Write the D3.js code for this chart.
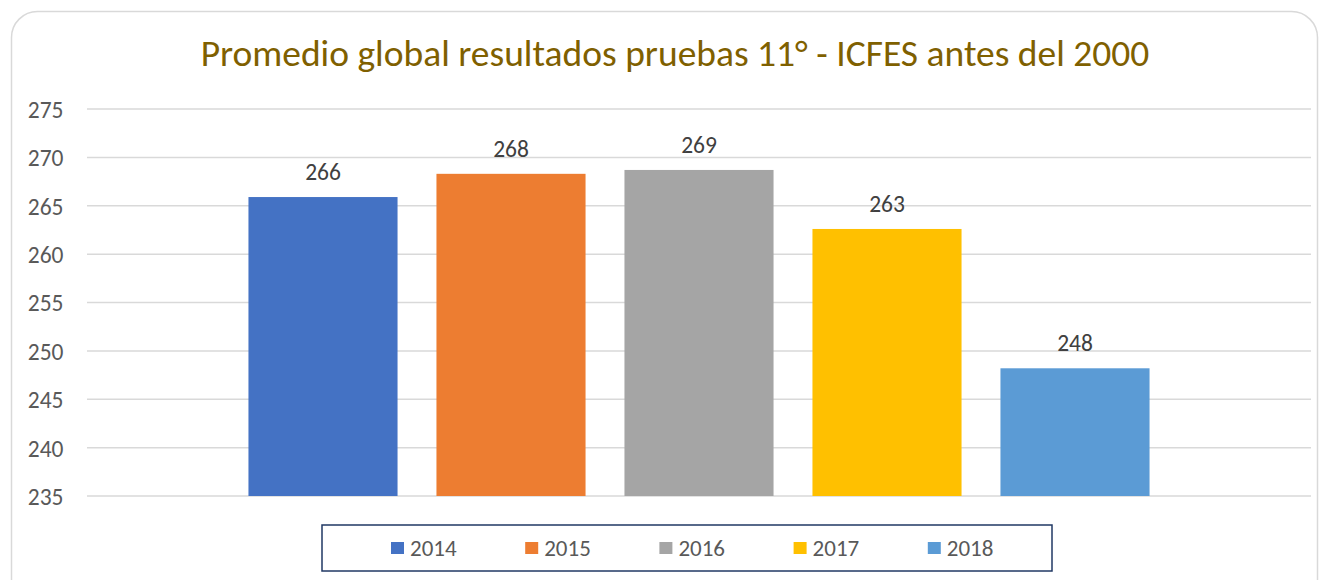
<!DOCTYPE html>
<html>
<head>
<meta charset="utf-8">
<script src="https://cdn.jsdelivr.net/npm/d3@7"></script>
<style>
  html, body { margin: 0; padding: 0; background: #fff; }
  svg { display: block; font-family: Carlito, Calibri, "Open Sans", "Noto Sans", sans-serif; }
</style>
</head>
<body>
<div id="chart"></div>
<script>
// data
const years = ['2014', '2015', '2016', '2017', '2018'];
const values = [265.9, 268.3, 268.7, 262.6, 248.2];
const labels = ['266', '268', '269', '263', '248'];
const colors = ['#4472c4', '#ed7d31', '#a5a5a5', '#ffc000', '#5b9bd5'];
const yTicks = [235, 240, 245, 250, 255, 260, 265, 270, 275];
const title = 'Promedio global resultados pruebas 11° - ICFES antes del 2000';

const width = 1328, height = 580;
const plot = {left: 87, right: 1311, top: 109, bottom: 496};

const svg = d3.select('#chart').append('svg')
    .attr('width', width)
    .attr('height', height);

// outer frame
svg.append('rect')
    .attr('x', 11.5).attr('y', 11.5)
    .attr('width', 1306).attr('height', 600)
    .attr('rx', 26).attr('ry', 26)
    .attr('fill', '#fff')
    .attr('stroke', '#d9d9d9')
    .attr('stroke-width', 1.5);

svg.append('text')
    .attr('x', 675).attr('y', 66)
    .attr('text-anchor', 'middle')
    .attr('fill', '#7f6000')
    .style('font-size', '37.5px')
    .text(title);

const y = d3.scaleLinear()
    .domain([235, 275])
    .range([plot.bottom, plot.top]);

const mid = (plot.left + plot.right) / 2;
const x = d3.scaleBand()
    .domain(years)
    .range([mid - 470, mid + 470])
    .paddingInner(0.207)
    .paddingOuter(0.1035);

// gridlines
svg.append('g')
    .selectAll('line')
    .data(yTicks)
    .enter().append('line')
    .attr('x1', plot.left).attr('x2', plot.right)
    .attr('y1', d => y(d)).attr('y2', d => y(d))
    .attr('stroke', '#d9d9d9')
    .attr('stroke-width', 1.5);

// y axis labels
const yAxis = svg.append('g')
    .attr('transform', 'translate(63.5,0)')
    .call(d3.axisLeft(y).tickValues(yTicks).tickSize(0).tickPadding(0));
yAxis.select('.domain').remove();
yAxis.selectAll('text')
    .attr('fill', '#595959')
    .attr('dy', '0.36em')
    .style('font-size', '23.5px')
    .style('font-family', 'Carlito, Calibri, "Open Sans", sans-serif');

// bars
svg.append('g')
    .selectAll('rect')
    .data(years)
    .enter().append('rect')
    .attr('x', d => x(d))
    .attr('y', (d, i) => y(values[i]))
    .attr('width', x.bandwidth())
    .attr('height', (d, i) => y(235) - y(values[i]))
    .attr('fill', (d, i) => colors[i]);

// data labels
svg.append('g')
    .selectAll('text')
    .data(years)
    .enter().append('text')
    .attr('x', d => x(d) + x.bandwidth() / 2)
    .attr('y', (d, i) => y(values[i]) - 17)
    .attr('text-anchor', 'middle')
    .attr('fill', '#404040')
    .style('font-size', '23.5px')
    .text((d, i) => labels[i]);

// legend
svg.append('rect')
    .attr('x', 322).attr('y', 525)
    .attr('width', 730).attr('height', 46)
    .attr('fill', '#fff')
    .attr('stroke', '#203864')
    .attr('stroke-width', 1.5);

const legend = svg.append('g')
    .selectAll('g')
    .data(years)
    .enter().append('g')
    .attr('transform', (d, i) => `translate(${391 + i * 134.2},548)`);

legend.append('rect')
    .attr('x', 0).attr('y', -6)
    .attr('width', 13).attr('height', 12)
    .attr('fill', (d, i) => colors[i]);

legend.append('text')
    .attr('x', 19).attr('y', 7.5)
    .attr('fill', '#595959')
    .style('font-size', '23px')
    .text(d => d);
</script>
</body>
</html>
